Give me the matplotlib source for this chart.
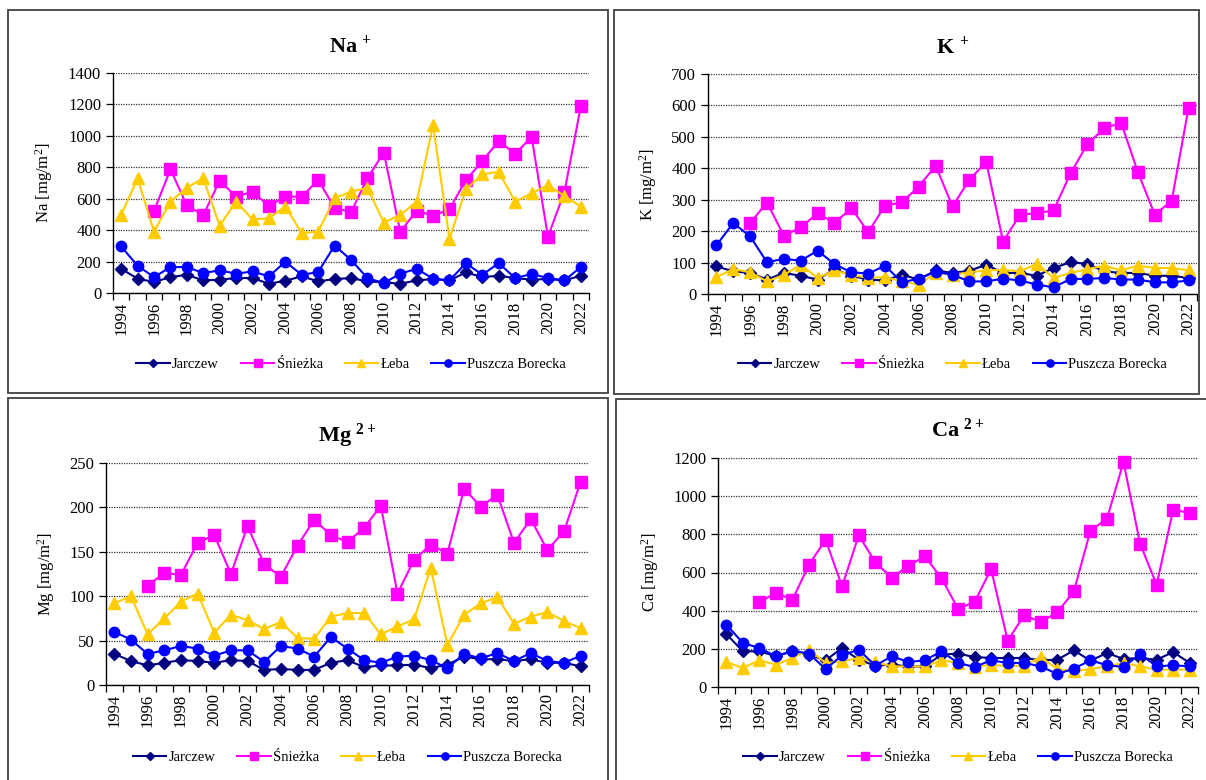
import numpy as np
import matplotlib
matplotlib.use('Agg')
import matplotlib.pyplot as plt
from matplotlib.patches import Rectangle

plt.rcParams['font.family'] = ['Liberation Serif', 'DejaVu Serif']
plt.rcParams['mathtext.default'] = 'regular'

nan = np.nan
years = list(range(1994, 2023))
stations = ['Jarczew', 'Śnieżka', 'Łeba', 'Puszcza Borecka']

# ---- dane [mg/m2] ----
jar_na = [154, 91, 70, 101, 116, 80, 85, 95, 95, 59, 78, 106, 74, 89, 95, 74, 68, 59, 80, 89, 80, 131, 101, 110, 95, 85, 89, 80, 110]
sni_na = [nan, nan, 522, 787, 558, 495, 715, 613, 645, 554, 613, 613, 719, 543, 514, 730, 894, 389, 524, 491, 533, 719, 839, 968, 884, 994, 359, 641, 1188]
leb_na = [497, 730, 391, 581, 670, 730, 429, 581, 469, 476, 550, 381, 391, 603, 645, 670, 448, 497, 581, 1068, 345, 660, 755, 772, 581, 634, 687, 617, 550]
pb_na = [296, 173, 101, 165, 165, 127, 144, 123, 137, 106, 199, 116, 133, 302, 211, 95, 63, 123, 154, 91, 80, 190, 116, 190, 95, 121, 95, 80, 165]

jar_k = [88, 72, 67, 46, 67, 58, 46, 79, 58, 46, 43, 61, 46, 75, 67, 74, 93, 67, 67, 58, 83, 101, 96, 72, 67, 67, 58, 58, 51]
sni_k = [nan, nan, 226, 291, 185, 212, 257, 226, 273, 197, 281, 292, 342, 408, 279, 363, 421, 167, 252, 257, 266, 384, 477, 527, 545, 387, 252, 297, 593]
leb_k = [54, 79, 69, 40, 61, 93, 51, 75, 61, 51, 54, 40, 30, 67, 61, 69, 75, 77, 72, 96, 51, 67, 79, 90, 75, 90, 83, 83, 75]
pb_k = [155, 226, 183, 101, 112, 106, 138, 95, 69, 65, 90, 37, 49, 71, 61, 40, 40, 49, 43, 30, 21, 48, 48, 51, 46, 46, 37, 37, 43]

jar_mg = [35, 27, 22, 25, 28, 27, 25, 28, 27, 17, 18, 17, 17, 25, 28, 20, 22, 22, 23, 19, 23, 32, 29, 29, 27, 29, 25, 25, 21]
sni_mg = [nan, nan, 112, 126, 124, 160, 169, 125, 179, 136, 122, 157, 186, 169, 161, 177, 202, 103, 141, 158, 148, 221, 201, 214, 160, 187, 152, 173, 229]
leb_mg = [92, 100, 57, 75, 94, 103, 59, 79, 73, 63, 71, 53, 52, 77, 81, 81, 57, 66, 74, 132, 45, 79, 92, 99, 69, 77, 82, 72, 64]
pb_mg = [60, 51, 35, 39, 44, 41, 33, 39, 39, 26, 44, 41, 32, 54, 41, 28, 25, 32, 33, 28, 19, 35, 30, 36, 27, 36, 27, 25, 33]

jar_ca = [278, 187, 187, 161, 187, 169, 140, 204, 143, 112, 117, 108, 108, 170, 175, 157, 152, 152, 152, 140, 143, 192, 138, 178, 147, 152, 143, 183, 126]
sni_ca = [nan, nan, 445, 493, 458, 641, 772, 527, 795, 655, 571, 636, 684, 571, 410, 445, 618, 243, 376, 341, 391, 501, 819, 882, 1179, 751, 536, 929, 912]
leb_ca = [131, 100, 140, 117, 152, 196, 126, 134, 152, 131, 108, 108, 108, 140, 126, 105, 117, 108, 112, 157, 94, 82, 94, 108, 126, 108, 91, 91, 91]
pb_ca = [327, 231, 204, 161, 190, 175, 94, 166, 196, 112, 161, 131, 140, 187, 126, 105, 140, 126, 126, 108, 68, 96, 140, 114, 105, 173, 108, 114, 108]

colors = ['#000080', '#FF00FF', '#FFCC00', '#0000FF']
markers = ['D', 's', '^', 'o']
msizes = [6, 8, 8, 7.5]

fig = plt.figure(figsize=(12.06, 7.80), dpi=100)

# ramki paneli (piksele: x0, y0, x1, y1 od góry)
for x0, y0, x1, y1 in [(8, 10, 608, 393), (614, 10, 1199, 394),
                       (8, 398, 608, 790), (616, 399, 1216, 790)]:
    fig.patches.append(Rectangle((x0 / 1206, 1 - y1 / 780), (x1 - x0) / 1206, (y1 - y0) / 780,
                                 transform=fig.transFigure, fill=False,
                                 edgecolor='#404040', lw=1.3))

panels = [
    dict(pos=[113, 73, 589, 293], title='Na $^{+}$', ylab='Na [mg/m$^2$]', ymax=1400, step=200,
         data=[jar_na, sni_na, leb_na, pb_na], leg_y=364),
    dict(pos=[708, 74, 1197, 294], title='K $^{+}$', ylab='K [mg/m$^2$]', ymax=700, step=100,
         data=[jar_k, sni_k, leb_k, pb_k], leg_y=364),
    dict(pos=[106, 463, 589, 685], title='Mg $^{2+}$', ylab='Mg [mg/m$^2$]', ymax=250, step=50,
         data=[jar_mg, sni_mg, leb_mg, pb_mg], leg_y=757),
    dict(pos=[718, 458, 1198, 687], title='Ca $^{2+}$', ylab='Ca [mg/m$^2$]', ymax=1200, step=200,
         data=[jar_ca, sni_ca, leb_ca, pb_ca], leg_y=757),
]

x = np.arange(len(years))
for p in panels:
    l, t, r, b = p['pos']
    ax = fig.add_axes([l / 1206, 1 - b / 780, (r - l) / 1206, (b - t) / 780])
    for vals, c, m, ms, name in zip(p['data'], colors, markers, msizes, stations):
        ax.plot(x, vals, color=c, marker=m, markersize=ms, lw=1.5, label=name, clip_on=False)
    ax.set_xlim(-0.5, len(years) - 0.5)
    ax.set_ylim(0, p['ymax'])
    ax.set_yticks(np.arange(0, p['ymax'] + 1, p['step']))
    ax.yaxis.grid(True, linestyle=(0, (1, 1)), color='#333333', lw=0.9)
    ax.set_axisbelow(True)
    for s in ['top', 'right']:
        ax.spines[s].set_visible(False)
    ax.spines['left'].set_linewidth(1)
    ax.spines['bottom'].set_linewidth(1)
    ax.set_xticks(x[::2])
    ax.set_xticklabels([str(y) for y in years[::2]], rotation=90)
    ax.set_xticks(np.arange(-0.5, len(years)), minor=True)
    ax.tick_params(axis='x', which='major', length=0, pad=6, labelsize=12)
    ax.tick_params(axis='x', which='minor', length=5, width=0.9)
    ax.tick_params(axis='y', length=5, width=0.9, labelsize=12)
    ax.set_ylabel(p['ylab'], fontsize=12, labelpad=9)
    ax.set_title(p['title'], fontsize=16, fontweight='bold', pad=15)
    ax.legend(loc='center', bbox_to_anchor=((l + r) / 2 / 1206, 1 - p['leg_y'] / 780),
              bbox_transform=fig.transFigure, ncol=4, frameon=False, fontsize=10.5,
              handlelength=2.3, columnspacing=1.5, handletextpad=0.15, markerscale=0.7)

fig.savefig('out.png', dpi=100)
